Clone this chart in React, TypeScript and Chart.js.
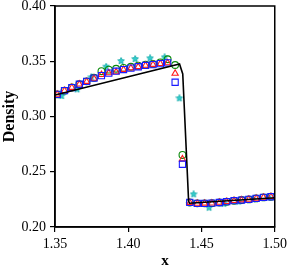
import React, { useEffect, useRef } from "react";
import { Chart, registerables } from "chart.js";

Chart.register(...registerables);

const cellX = [1.3515, 1.3565, 1.3615, 1.3666, 1.3716, 1.3766, 1.3817, 1.3867, 1.3917, 1.3968, 1.4018, 1.4068, 1.4118, 1.4169, 1.4219, 1.4269, 1.432, 1.437, 1.442, 1.4471, 1.4521, 1.4571, 1.4622, 1.4672, 1.4722, 1.4773, 1.4823, 1.4873, 1.4923, 1.4974];
const blueSquares = [0.32, 0.3234, 0.3262, 0.3292, 0.3318, 0.3347, 0.337, 0.3392, 0.341, 0.3425, 0.3438, 0.345, 0.3462, 0.347, 0.3478, 0.3485, 0.331, 0.2568, 0.2223, 0.2214, 0.2214, 0.2216, 0.2222, 0.2229, 0.2238, 0.2244, 0.225, 0.2259, 0.2268, 0.2274];
const redTriangles = [0.32, 0.3234, 0.3262, 0.3292, 0.3316, 0.3344, 0.3378, 0.3394, 0.3403, 0.3425, 0.3438, 0.345, 0.3462, 0.347, 0.3478, 0.3485, 0.339, 0.2615, 0.2221, 0.2213, 0.2214, 0.2216, 0.2222, 0.2229, 0.2238, 0.2244, 0.225, 0.2259, 0.2268, 0.2274];
const greenCircles = [0.32, 0.3234, 0.3262, 0.3292, 0.3318, 0.335, 0.341, 0.3424, 0.3432, 0.344, 0.345, 0.346, 0.3468, 0.3476, 0.349, 0.3518, 0.3466, 0.2652, 0.2222, 0.2214, 0.2214, 0.2216, 0.2222, 0.2229, 0.2238, 0.2244, 0.225, 0.2259, 0.2268, 0.2274];
const starX = [1.3545, 1.3651, 1.3748, 1.3849, 1.3951, 1.4047, 1.4149, 1.4248, 1.4349, 1.4446, 1.4552, 1.4652, 1.4753, 1.4851, 1.4953];
const cyanStars = [0.3186, 0.3246, 0.3355, 0.3451, 0.3502, 0.352, 0.3527, 0.3536, 0.3165, 0.2296, 0.2175, 0.221, 0.223, 0.225, 0.2268];
const exactX = [1.35, 1.435, 1.4372, 1.4412, 1.4418, 1.5];
const exactY = [0.3195, 0.3475, 0.3385, 0.2235, 0.2215, 0.2265];
const xTicks = [1.35, 1.4, 1.45, 1.5];
const yTicks = [0.2, 0.25, 0.3, 0.35, 0.4];

function makeStar(color: string, stroke: string, size: number) {
  const c = document.createElement("canvas");
  c.width = size;
  c.height = size;
  const ctx = c.getContext("2d")!;
  const cx = size / 2, cy = size / 2;
  const R = size / 2 - 0.5, r = R * 0.5;
  ctx.beginPath();
  for (let k = 0; k < 10; k++) {
    const rad = k % 2 === 0 ? R : r;
    const a = -Math.PI / 2 + (k * Math.PI) / 5;
    const px = cx + rad * Math.cos(a), py = cy + rad * Math.sin(a);
    if (k === 0) ctx.moveTo(px, py); else ctx.lineTo(px, py);
  }
  ctx.closePath();
  ctx.fillStyle = color;
  ctx.fill();
  ctx.strokeStyle = stroke;
  ctx.lineWidth = 0.8;
  ctx.stroke();
  return c;
}

const frame = {
  id: "frame",
  afterDatasetsDraw(chart: any) {
    const { ctx, chartArea } = chart;
    ctx.save();
    ctx.strokeStyle = "#000";
    ctx.lineWidth = 1.5;
    ctx.strokeRect(chartArea.left, chartArea.top, chartArea.right - chartArea.left, chartArea.bottom - chartArea.top);
    ctx.restore();
  },
};

export default function App() {
  const ref = useRef<HTMLCanvasElement>(null);
  useEffect(() => {
    const pts = (xs: number[], ys: number[]) => xs.map((x, i) => ({ x, y: ys[i] }));
    const font = { family: "'Liberation Serif', serif", size: 14 };
    const chart = new Chart(ref.current!, {
      type: "scatter",
      data: {
        datasets: [
          {
            type: "line",
            data: pts(exactX, exactY),
            borderColor: "#000",
            borderWidth: 1.6,
            pointRadius: 0,
            tension: 0,
            fill: false,
          } as any,
          {
            data: pts(cellX, blueSquares),
            pointStyle: "rect",
            pointRadius: 4.4,
            borderColor: "#1a1aff",
            backgroundColor: "rgba(0,0,0,0)",
            borderWidth: 1.1,
          },
          {
            data: pts(cellX, redTriangles),
            pointStyle: "triangle",
            pointRadius: 3.6,
            borderColor: "#ff1a1a",
            backgroundColor: "rgba(0,0,0,0)",
            borderWidth: 1.1,
          },
          {
            data: pts(cellX, greenCircles),
            pointStyle: "circle",
            pointRadius: 3.4,
            borderColor: "#0a8a0a",
            backgroundColor: "rgba(0,0,0,0)",
            borderWidth: 1.1,
          },
          {
            data: pts(starX, cyanStars),
            pointStyle: makeStar("#33cccc", "#14aaaa", 8) as any,
            pointRadius: 4,
          },
        ],
      },
      options: {
        animation: false,
        responsive: false,
        layout: { padding: { top: 6, right: 14, left: 0, bottom: 0 } },
        plugins: { legend: { display: false }, tooltip: { enabled: false } },
        scales: {
          x: {
            type: "linear",
            min: 1.35,
            max: 1.5,
            afterFit: (s: any) => { s.height = 44; },
            afterBuildTicks: (s: any) => { s.ticks = xTicks.map((v) => ({ value: v })); },
            ticks: { color: "#000", font, padding: 4, callback: (v: any) => Number(v).toFixed(2), maxRotation: 0 },
            grid: { display: true, drawOnChartArea: false, drawTicks: true, tickLength: 5, color: "#000", lineWidth: 1.2 },
            border: { display: true, color: "#000", width: 1.5 },
            title: { display: true, text: "x", color: "#000", font: { family: "'Liberation Serif', serif", size: 15, weight: "bold" }, padding: { top: 0, bottom: 1 } },
          },
          y: {
            type: "linear",
            min: 0.2,
            max: 0.4,
            afterFit: (s: any) => { s.width = 55; s.paddingTop = 0; s.paddingBottom = 0; },
            afterBuildTicks: (s: any) => { s.ticks = yTicks.map((v) => ({ value: v })); },
            ticks: { color: "#000", font, padding: 4, callback: (v: any) => Number(v).toFixed(2) },
            grid: { display: true, drawOnChartArea: false, drawTicks: true, tickLength: 5, color: "#000", lineWidth: 1.2 },
            border: { display: true, color: "#000", width: 1.5 },
            title: { display: true, text: "Density", color: "#000", font: { family: "'Liberation Serif', serif", size: 16, weight: "bold" }, padding: { top: 0, bottom: 0 } },
          },
        },
      },
      plugins: [frame],
    });
    return () => chart.destroy();
  }, []);
  return (
    <div style={{ position: "fixed", left: 0, top: 0, width: 291, height: 271, background: "#fff" }}>
      <canvas ref={ref} width={291} height={271} style={{ display: "block" }} />
    </div>
  );
}
